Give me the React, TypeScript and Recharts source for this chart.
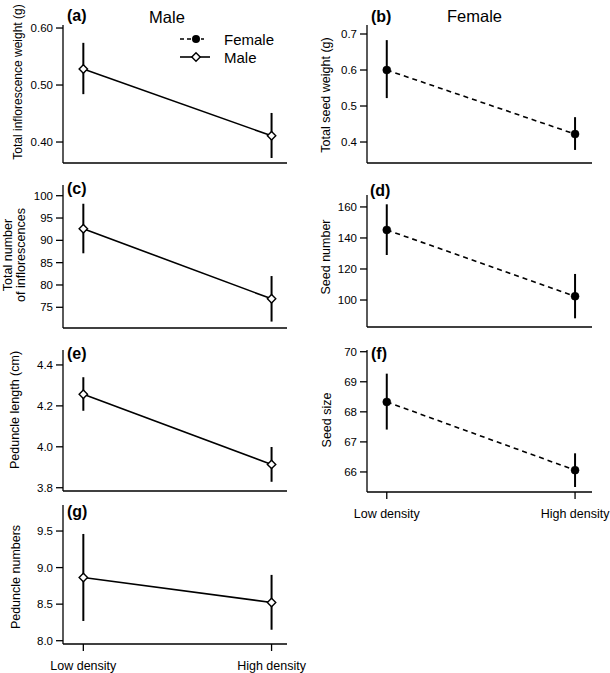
import React from 'react';
import { LineChart, Line, XAxis, YAxis, ErrorBar, Legend } from 'recharts';

// ---------- data ----------
const categories = ['Low density', 'High density'];
const xPositions = [0, 1];

// (a) Total inflorescence weight (g) - male
const inflWeightMean = [0.528, 0.411];
const inflWeightLow = [0.484, 0.372];
const inflWeightHigh = [0.574, 0.451];
const inflWeightTicks = [0.4, 0.5, 0.6];

// (b) Total seed weight (g) - female
const seedWeightMean = [0.6, 0.422];
const seedWeightLow = [0.522, 0.378];
const seedWeightHigh = [0.683, 0.469];
const seedWeightTicks = [0.4, 0.5, 0.6, 0.7];

// (c) Total number of inflorescences - male
const inflNumberMean = [92.6, 76.9];
const inflNumberLow = [87.1, 71.8];
const inflNumberHigh = [98.2, 82.0];
const inflNumberTicks = [75, 80, 85, 90, 95, 100];

// (d) Seed number - female
const seedNumberMean = [145.2, 102.4];
const seedNumberLow = [129, 88.2];
const seedNumberHigh = [161.7, 116.8];
const seedNumberTicks = [100, 120, 140, 160];

// (e) Peduncle length (cm) - male
const pedLengthMean = [4.257, 3.914];
const pedLengthLow = [4.176, 3.829];
const pedLengthHigh = [4.34, 3.999];
const pedLengthTicks = [3.8, 4.0, 4.2, 4.4];

// (f) Seed size - female
const seedSizeMean = [68.33, 66.06];
const seedSizeLow = [67.41, 65.5];
const seedSizeHigh = [69.27, 66.62];
const seedSizeTicks = [66, 67, 68, 69, 70];

// (g) Peduncle numbers - male
const pedNumberMean = [8.864, 8.523];
const pedNumberLow = [8.27, 8.15];
const pedNumberHigh = [9.46, 8.9];
const pedNumberTicks = [8.0, 8.5, 9.0, 9.5];

// ---------- helpers ----------
const FONT = '"Liberation Sans", Arial, Helvetica, sans-serif';

function buildRows(mean: number[], low: number[], high: number[]) {
  return xPositions.map((x, i) => ({
    x,
    category: categories[i],
    y: mean[i],
    err: [mean[i] - low[i], high[i] - mean[i]],
  }));
}

const DiamondDot = (props: any) => {
  const { cx, cy, index } = props;
  if (cx == null || cy == null) return <g key={`dd-${index}`} />;
  const s = 4.2;
  return (
    <path
      key={`dd-${index}`}
      d={`M${cx},${cy - s}L${cx + s},${cy}L${cx},${cy + s}L${cx - s},${cy}Z`}
      fill="#fff"
      stroke="#000"
      strokeWidth={1.4}
    />
  );
};

const CircleDot = (props: any) => {
  const { cx, cy, index } = props;
  if (cx == null || cy == null) return <g key={`cd-${index}`} />;
  return <circle key={`cd-${index}`} cx={cx} cy={cy} r={4} fill="#000" stroke="#000" strokeWidth={0.5} />;
};

const LegendBox = () => (
  <svg width={130} height={40} style={{ overflow: 'visible', display: 'block' }}>
    <line x1={5} y1={11} x2={29} y2={11} stroke="#000" strokeWidth={1.6} strokeDasharray="4 3" />
    <circle cx={21} cy={11} r={4} fill="#000" />
    <text x={49} y={16.5} fontFamily={FONT} fontSize={15} fill="#000">Female</text>
    <line x1={5} y1={29} x2={35} y2={29} stroke="#000" strokeWidth={1.6} />
    <path d="M21,24.8L25.2,29L21,33.2L16.8,29Z" fill="#fff" stroke="#000" strokeWidth={1.4} />
    <text x={49} y={34.5} fontFamily={FONT} fontSize={15} fill="#000">Male</text>
  </svg>
);

type PanelProps = {
  left: number;
  plotTop: number;
  plotH: number;
  plotW: number;
  rightMargin: number;
  domain: [number, number];
  xDomain: [number, number];
  ticks: number[];
  decimals: number;
  rows: any[];
  female: boolean;
  bottom: boolean;
  xAxisH: number;
  legend?: boolean;
};

const axisStyle = { stroke: '#000', strokeWidth: 1.3 };

const Panel = (p: PanelProps) => {
  const top = p.plotTop - 5;
  const xh = p.bottom ? p.xAxisH : 2;
  const width = 63 + p.plotW + p.rightMargin;
  const height = 5 + p.plotH + xh;
  return (
    <div style={{ position: 'absolute', left: p.left, top }}>
      <LineChart
        width={width}
        height={height}
        data={p.rows}
        margin={{ top: 5, right: p.rightMargin, bottom: 0, left: 0 }}
      >
        <XAxis
          type="number"
          dataKey="x"
          domain={p.xDomain}
          allowDataOverflow
          ticks={xPositions}
          interval={0}
          height={xh}
          tickFormatter={(v: number) => categories[v] ?? ''}
          tick={p.bottom ? { fill: '#000', fontSize: 12.5, fontFamily: FONT } : false}
          tickLine={p.bottom ? axisStyle : false}
          tickSize={7}
          tickMargin={10}
          axisLine={axisStyle}
        />
        <YAxis
          type="number"
          domain={p.domain}
          allowDataOverflow
          ticks={p.ticks}
          interval={0}
          width={63}
          tickSize={7}
          tickMargin={3}
          tickFormatter={(v: number) => v.toFixed(p.decimals)}
          tick={{ fill: '#000', fontSize: 11.5, fontFamily: FONT }}
          tickLine={axisStyle}
          axisLine={axisStyle}
        />
        {p.legend && (
          <Legend
            layout="horizontal"
            verticalAlign="middle"
            align="center"
            content={() => <LegendBox />}
            wrapperStyle={{ left: 175, top: 28 - top, width: 130, height: 40 }}
          />
        )}
        <Line
          type="linear"
          dataKey="y"
          stroke="#000"
          strokeWidth={1.6}
          strokeDasharray={p.female ? '5 4' : undefined}
          dot={p.female ? CircleDot : DiamondDot}
          activeDot={false}
          isAnimationActive={false}
          legendType="none"
        >
          <ErrorBar dataKey="err" width={0} stroke="#000" strokeWidth={2} direction="y" />
        </Line>
      </LineChart>
    </div>
  );
};

const RotLabel = ({ cx, cy, lines, size = 12.5 }: { cx: number; cy: number; lines: string[]; size?: number }) => (
  <div
    style={{
      position: 'absolute',
      left: cx,
      top: cy,
      transform: 'translate(-50%, -50%) rotate(-90deg)',
      whiteSpace: 'nowrap',
      fontFamily: FONT,
      fontSize: size,
      lineHeight: '13px',
      textAlign: 'center',
      color: '#000',
    }}
  >
    {lines.map((l, i) => (
      <div key={i}>{l}</div>
    ))}
  </div>
);

const TextAt = ({ x, cy, text, bold, size, center }: { x: number; cy: number; text: string; bold?: boolean; size: number; center?: boolean }) => (
  <div
    style={{
      position: 'absolute',
      left: x,
      top: cy,
      transform: center ? 'translate(-50%, -50%)' : 'translate(0, -50%)',
      whiteSpace: 'nowrap',
      fontFamily: FONT,
      fontSize: size,
      fontWeight: bold ? 'bold' : 'normal',
      lineHeight: 1,
      color: '#000',
    }}
  >
    {text}
  </div>
);

const LEFT_X: [number, number] = [-0.108, 1.082];
const RIGHT_X: [number, number] = [-0.105, 1.09];

export default function App() {
  return (
    <div
      style={{
        position: 'absolute',
        left: 0,
        top: 0,
        width: 610,
        height: 673,
        overflow: 'hidden',
        background: '#fff',
      }}
    >
      {/* (a) */}
      <Panel left={0} plotTop={25} plotH={138} plotW={224} rightMargin={25} domain={[0.3632, 0.6053]} xDomain={LEFT_X}
        ticks={inflWeightTicks} decimals={2} rows={buildRows(inflWeightMean, inflWeightLow, inflWeightHigh)} female={false} bottom={false} xAxisH={2} legend />
      {/* (b) */}
      <Panel left={304} plotTop={25} plotH={138} plotW={225} rightMargin={18} domain={[0.3417, 0.725]} xDomain={RIGHT_X}
        ticks={seedWeightTicks} decimals={1} rows={buildRows(seedWeightMean, seedWeightLow, seedWeightHigh)} female bottom={false} xAxisH={2} />
      {/* (c) */}
      <Panel left={0} plotTop={185} plotH={143} plotW={224} rightMargin={25} domain={[70.36, 102.4]} xDomain={LEFT_X}
        ticks={inflNumberTicks} decimals={0} rows={buildRows(inflNumberMean, inflNumberLow, inflNumberHigh)} female={false} bottom={false} xAxisH={2} />
      {/* (d) */}
      <Panel left={304} plotTop={195} plotH={132} plotW={225} rightMargin={18} domain={[82.6, 167.7]} xDomain={RIGHT_X}
        ticks={seedNumberTicks} decimals={0} rows={buildRows(seedNumberMean, seedNumberLow, seedNumberHigh)} female bottom={false} xAxisH={2} />
      {/* (e) */}
      <Panel left={0} plotTop={350} plotH={141} plotW={224} rightMargin={25} domain={[3.784, 4.473]} xDomain={LEFT_X}
        ticks={pedLengthTicks} decimals={1} rows={buildRows(pedLengthMean, pedLengthLow, pedLengthHigh)} female={false} bottom={false} xAxisH={2} />
      {/* (f) */}
      <Panel left={304} plotTop={350} plotH={142} plotW={225} rightMargin={18} domain={[65.333, 70.057]} xDomain={RIGHT_X}
        ticks={seedSizeTicks} decimals={0} rows={buildRows(seedSizeMean, seedSizeLow, seedSizeHigh)} female bottom xAxisH={35} />
      {/* (g) */}
      <Panel left={0} plotTop={505} plotH={139} plotW={224} rightMargin={25} domain={[7.955, 9.856]} xDomain={LEFT_X}
        ticks={pedNumberTicks} decimals={1} rows={buildRows(pedNumberMean, pedNumberLow, pedNumberHigh)} female={false} bottom xAxisH={29} />

      {/* titles and panel letters */}
      <TextAt x={167} cy={17} text="Male" size={16.5} center />
      <TextAt x={474.5} cy={16} text="Female" size={16.5} center />
      <TextAt x={67} cy={16} text="(a)" size={16} bold />
      <TextAt x={371} cy={17} text="(b)" size={16} bold />
      <TextAt x={67} cy={189} text="(c)" size={16} bold />
      <TextAt x={370} cy={191} text="(d)" size={16} bold />
      <TextAt x={67} cy={354} text="(e)" size={16} bold />
      <TextAt x={371} cy={354} text="(f)" size={16} bold />
      <TextAt x={67} cy={512} text="(g)" size={16} bold />

      {/* y-axis titles */}
      <RotLabel cx={18} cy={82} size={12} lines={['Total inflorescence weight (g)']} />
      <RotLabel cx={326} cy={95} lines={['Total seed weight (g)']} />
      <RotLabel cx={14.5} cy={255} lines={['Total number', 'of inflorescences']} />
      <RotLabel cx={326} cy={257} lines={['Seed number']} />
      <RotLabel cx={15} cy={410} lines={['Peduncle length (cm)']} />
      <RotLabel cx={327} cy={420} lines={['Seed size']} />
      <RotLabel cx={16} cy={577} lines={['Peduncle numbers']} />
    </div>
  );
}
